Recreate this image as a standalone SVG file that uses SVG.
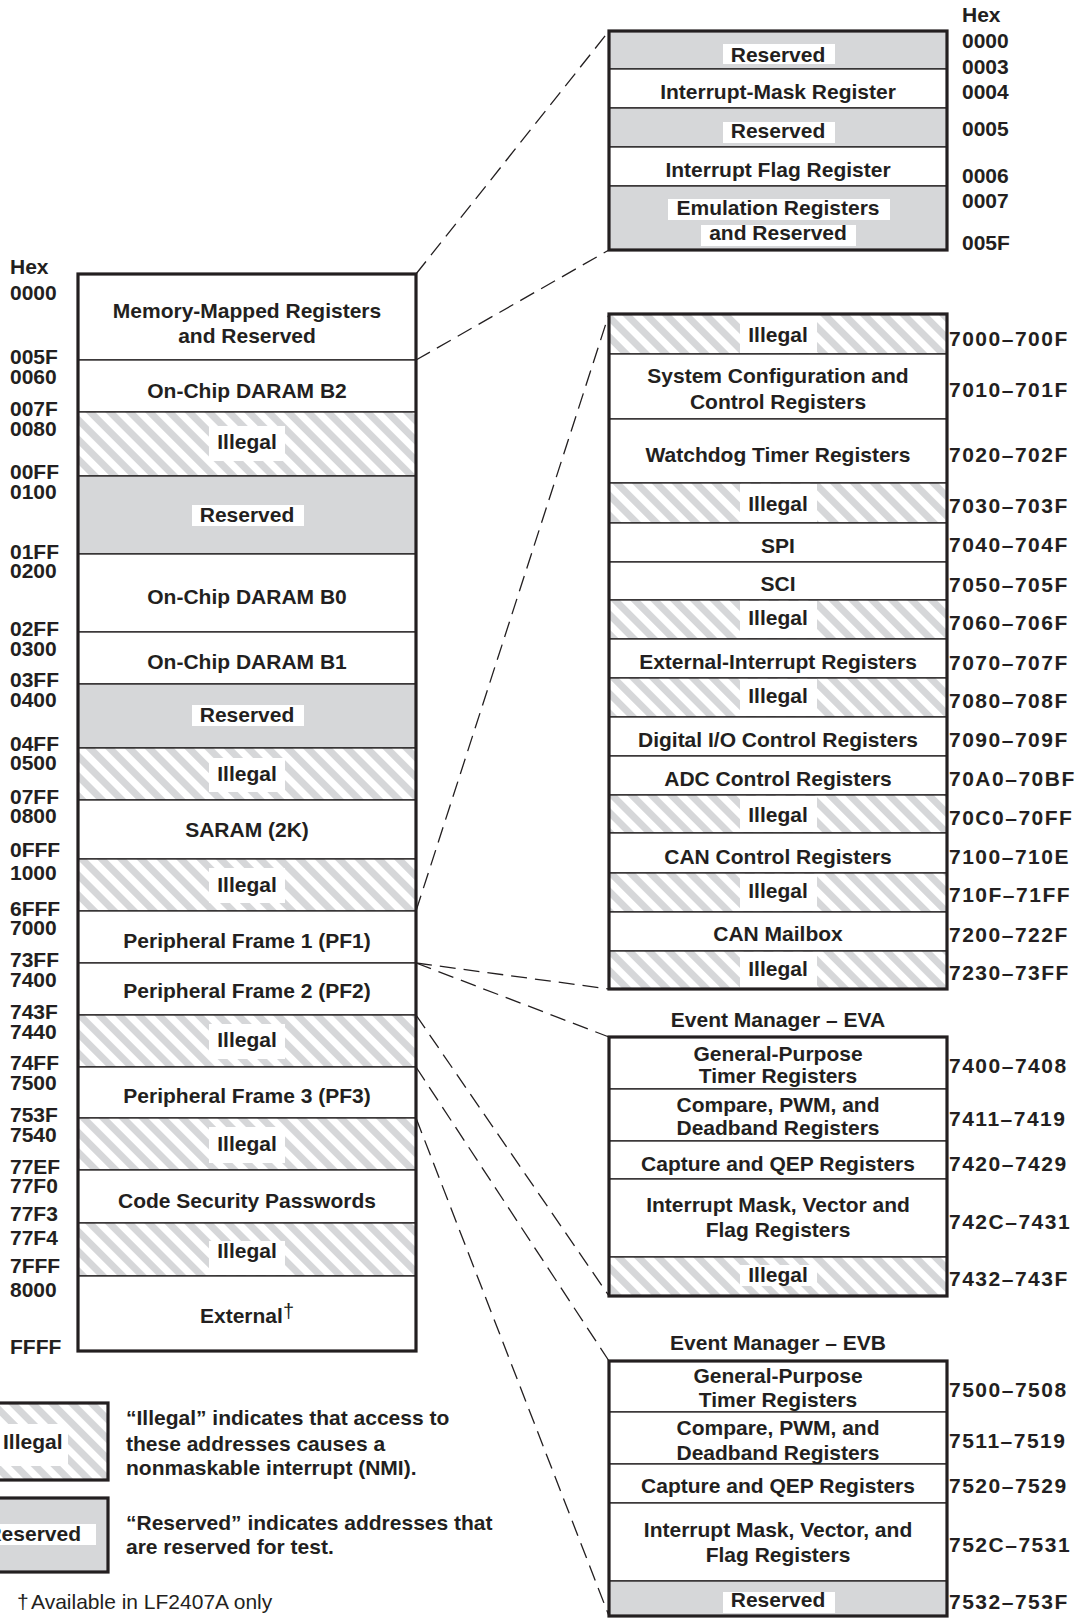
<svg xmlns="http://www.w3.org/2000/svg" width="1078" height="1618" viewBox="0 0 1078 1618">
  <style>
    .t { font-family: "Liberation Sans", Arial, Helvetica, sans-serif; font-weight: bold; font-size: 21px; fill: #231f20; }
    .c { text-anchor: middle; }
    .e { text-anchor: end; }
    .n { font-weight: normal; }
    .rng { letter-spacing: 1.5px; }
    .row { stroke: #231f20; stroke-width: 1.3; }
    .wht { fill: #ffffff; }
    .res { fill: #d6d7d9; }
    .ill { fill: url(#hatch); }
    .gap { fill: #ffffff; stroke: none; }
    .frame { fill: none; stroke: #231f20; stroke-width: 3.2; }
    .conn { fill: none; stroke: #231f20; stroke-width: 1.3; stroke-dasharray: 16 8; }
  </style>
  <defs>
    <!-- diagonal grey stripes used for illegal address ranges -->
    <pattern id="hatch" patternUnits="userSpaceOnUse" width="14" height="14" patternTransform="rotate(45)">
      <rect width="14" height="14" fill="#ffffff"/>
      <rect width="14" height="7" fill="#d6d7d9"/>
    </pattern>
  </defs>

  <rect width="1078" height="1618" fill="#ffffff"/>

  <!-- dashed zoom-in connectors -->
  <g id="connectors">
    <path class="conn" d="M416,274 L609,31"/>
    <path class="conn" d="M416,360 L609,250"/>
    <path class="conn" d="M416,911 L609,314"/>
    <path class="conn" d="M416,963 L609,989"/>
    <path class="conn" d="M416,963 L609,1037"/>
    <path class="conn" d="M416,1015 L609,1296"/>
    <path class="conn" d="M416,1067 L609,1361"/>
    <path class="conn" d="M416,1118 L609,1616"/>
  </g>

  <!-- ===== main data memory map ===== -->
  <g id="main-map">
    <g id="m-mmr"><rect class="row wht" x="78" y="274" width="338" height="86"/>
      <text class="t c" x="247" y="318">Memory-Mapped Registers</text>
      <text class="t c" x="247" y="343">and Reserved</text></g>
    <g id="m-b2"><rect class="row wht" x="78" y="360" width="338" height="52"/>
      <text class="t c" x="247" y="398">On-Chip DARAM B2</text></g>
    <g id="m-ill1"><rect class="row ill" x="78" y="412" width="338" height="64"/>
      <rect class="gap" x="209" y="426" width="76" height="35"/>
      <text class="t c" x="247" y="449">Illegal</text></g>
    <g id="m-res1"><rect class="row res" x="78" y="476" width="338" height="78"/>
      <rect class="gap" x="192" y="505" width="112" height="21"/>
      <text class="t c" x="247" y="522">Reserved</text></g>
    <g id="m-b0"><rect class="row wht" x="78" y="554" width="338" height="78"/>
      <text class="t c" x="247" y="604">On-Chip DARAM B0</text></g>
    <g id="m-b1"><rect class="row wht" x="78" y="632" width="338" height="52"/>
      <text class="t c" x="247" y="669">On-Chip DARAM B1</text></g>
    <g id="m-res2"><rect class="row res" x="78" y="684" width="338" height="64"/>
      <rect class="gap" x="192" y="705" width="112" height="21"/>
      <text class="t c" x="247" y="722">Reserved</text></g>
    <g id="m-ill2"><rect class="row ill" x="78" y="748" width="338" height="52"/>
      <rect class="gap" x="209" y="758" width="76" height="34"/>
      <text class="t c" x="247" y="781">Illegal</text></g>
    <g id="m-saram"><rect class="row wht" x="78" y="800" width="338" height="59"/>
      <text class="t c" x="247" y="837">SARAM (2K)</text></g>
    <g id="m-ill3"><rect class="row ill" x="78" y="859" width="338" height="52"/>
      <rect class="gap" x="209" y="868" width="76" height="35"/>
      <text class="t c" x="247" y="892">Illegal</text></g>
    <g id="m-pf1"><rect class="row wht" x="78" y="911" width="338" height="52"/>
      <text class="t c" x="247" y="948">Peripheral Frame 1 (PF1)</text></g>
    <g id="m-pf2"><rect class="row wht" x="78" y="963" width="338" height="52"/>
      <text class="t c" x="247" y="998">Peripheral Frame 2 (PF2)</text></g>
    <g id="m-ill4"><rect class="row ill" x="78" y="1015" width="338" height="52"/>
      <rect class="gap" x="209" y="1024" width="76" height="35"/>
      <text class="t c" x="247" y="1047">Illegal</text></g>
    <g id="m-pf3"><rect class="row wht" x="78" y="1067" width="338" height="51"/>
      <text class="t c" x="247" y="1103">Peripheral Frame 3 (PF3)</text></g>
    <g id="m-ill5"><rect class="row ill" x="78" y="1118" width="338" height="52"/>
      <rect class="gap" x="209" y="1127" width="76" height="36"/>
      <text class="t c" x="247" y="1151">Illegal</text></g>
    <g id="m-csp"><rect class="row wht" x="78" y="1170" width="338" height="53"/>
      <text class="t c" x="247" y="1208">Code Security Passwords</text></g>
    <g id="m-ill6"><rect class="row ill" x="78" y="1223" width="338" height="53"/>
      <rect class="gap" x="209" y="1241" width="76" height="34"/>
      <text class="t c" x="247" y="1258">Illegal</text></g>
    <g id="m-ext"><rect class="row wht" x="78" y="1276" width="338" height="75"/>
      <text class="t c" x="247" y="1323">External<tspan class="n" font-size="20" dy="-5">†</tspan></text></g>
    <rect class="frame" x="78" y="274" width="338" height="1077"/>
  </g>

  <!-- main map address column -->
  <g id="main-addresses" class="t">
    <text x="10" y="274">Hex</text>
    <text x="10" y="300">0000</text>
    <text x="10" y="364">005F</text>
    <text x="10" y="384">0060</text>
    <text x="10" y="416">007F</text>
    <text x="10" y="436">0080</text>
    <text x="10" y="479">00FF</text>
    <text x="10" y="499">0100</text>
    <text x="10" y="559">01FF</text>
    <text x="10" y="578">0200</text>
    <text x="10" y="636">02FF</text>
    <text x="10" y="656">0300</text>
    <text x="10" y="687">03FF</text>
    <text x="10" y="707">0400</text>
    <text x="10" y="751">04FF</text>
    <text x="10" y="770">0500</text>
    <text x="10" y="804">07FF</text>
    <text x="10" y="823">0800</text>
    <text x="10" y="857">0FFF</text>
    <text x="10" y="880">1000</text>
    <text x="10" y="916">6FFF</text>
    <text x="10" y="935">7000</text>
    <text x="10" y="967">73FF</text>
    <text x="10" y="987">7400</text>
    <text x="10" y="1019">743F</text>
    <text x="10" y="1039">7440</text>
    <text x="10" y="1070">74FF</text>
    <text x="10" y="1090">7500</text>
    <text x="10" y="1122">753F</text>
    <text x="10" y="1142">7540</text>
    <text x="10" y="1174">77EF</text>
    <text x="10" y="1193">77F0</text>
    <text x="10" y="1221">77F3</text>
    <text x="10" y="1245">77F4</text>
    <text x="10" y="1273">7FFF</text>
    <text x="10" y="1297">8000</text>
    <text x="10" y="1354">FFFF</text>
  </g>

  <!-- ===== memory-mapped registers detail ===== -->
  <g id="mmr-detail">
    <g id="r-res1"><rect class="row res" x="609" y="31" width="338" height="38"/>
      <rect class="gap" x="723" y="44" width="112" height="20"/>
      <text class="t c" x="778" y="62">Reserved</text></g>
    <g id="r-imr"><rect class="row wht" x="609" y="69" width="338" height="39"/>
      <text class="t c" x="778" y="99">Interrupt-Mask Register</text></g>
    <g id="r-res2"><rect class="row res" x="609" y="108" width="338" height="39"/>
      <rect class="gap" x="723" y="122" width="112" height="21"/>
      <text class="t c" x="778" y="138">Reserved</text></g>
    <g id="r-ifr"><rect class="row wht" x="609" y="147" width="338" height="39"/>
      <text class="t c" x="778" y="177">Interrupt Flag Register</text></g>
    <g id="r-emu"><rect class="row res" x="609" y="186" width="338" height="64"/>
      <rect class="gap" x="668" y="199" width="222" height="21"/>
      <rect class="gap" x="701" y="225" width="155" height="21"/>
      <text class="t c" x="778" y="215">Emulation Registers</text>
      <text class="t c" x="778" y="240">and Reserved</text></g>
    <rect class="frame" x="609" y="31" width="338" height="219"/>
  </g>
  <g id="mmr-addresses" class="t">
    <text x="962" y="22">Hex</text>
    <text x="962" y="48">0000</text>
    <text x="962" y="74">0003</text>
    <text x="962" y="99">0004</text>
    <text x="962" y="136">0005</text>
    <text x="962" y="183">0006</text>
    <text x="962" y="208">0007</text>
    <text x="962" y="250">005F</text>
  </g>

  <!-- ===== peripheral frame 1 detail ===== -->
  <g id="pf1-detail">
    <g id="p-ill1"><rect class="row ill" x="609" y="314" width="338" height="40"/>
      <rect class="gap" x="740" y="315" width="77" height="38"/>
      <text class="t c" x="778" y="342">Illegal</text></g>
    <g id="p-sys"><rect class="row wht" x="609" y="354" width="338" height="65"/>
      <text class="t c" x="778" y="383">System Configuration and</text>
      <text class="t c" x="778" y="409">Control Registers</text></g>
    <g id="p-wd"><rect class="row wht" x="609" y="419" width="338" height="64"/>
      <text class="t c" x="778" y="462">Watchdog Timer Registers</text></g>
    <g id="p-ill2"><rect class="row ill" x="609" y="483" width="338" height="40"/>
      <rect class="gap" x="740" y="484" width="77" height="38"/>
      <text class="t c" x="778" y="511">Illegal</text></g>
    <g id="p-spi"><rect class="row wht" x="609" y="523" width="338" height="39"/>
      <text class="t c" x="778" y="553">SPI</text></g>
    <g id="p-sci"><rect class="row wht" x="609" y="562" width="338" height="38"/>
      <text class="t c" x="778" y="591">SCI</text></g>
    <g id="p-ill3"><rect class="row ill" x="609" y="600" width="338" height="39"/>
      <rect class="gap" x="740" y="601" width="77" height="37"/>
      <text class="t c" x="778" y="625">Illegal</text></g>
    <g id="p-xint"><rect class="row wht" x="609" y="639" width="338" height="39"/>
      <text class="t c" x="778" y="669">External-Interrupt Registers</text></g>
    <g id="p-ill4"><rect class="row ill" x="609" y="678" width="338" height="39"/>
      <rect class="gap" x="740" y="679" width="77" height="37"/>
      <text class="t c" x="778" y="703">Illegal</text></g>
    <g id="p-dio"><rect class="row wht" x="609" y="717" width="338" height="39"/>
      <text class="t c" x="778" y="747">Digital I/O Control Registers</text></g>
    <g id="p-adc"><rect class="row wht" x="609" y="756" width="338" height="39"/>
      <text class="t c" x="778" y="786">ADC Control Registers</text></g>
    <g id="p-ill5"><rect class="row ill" x="609" y="795" width="338" height="38"/>
      <rect class="gap" x="740" y="796" width="77" height="36"/>
      <text class="t c" x="778" y="822">Illegal</text></g>
    <g id="p-can"><rect class="row wht" x="609" y="833" width="338" height="40"/>
      <text class="t c" x="778" y="864">CAN Control Registers</text></g>
    <g id="p-ill6"><rect class="row ill" x="609" y="873" width="338" height="39"/>
      <rect class="gap" x="740" y="874" width="77" height="37"/>
      <text class="t c" x="778" y="898">Illegal</text></g>
    <g id="p-mbx"><rect class="row wht" x="609" y="912" width="338" height="39"/>
      <text class="t c" x="778" y="941">CAN Mailbox</text></g>
    <g id="p-ill7"><rect class="row ill" x="609" y="951" width="338" height="38"/>
      <rect class="gap" x="740" y="952" width="77" height="36"/>
      <text class="t c" x="778" y="976">Illegal</text></g>
    <rect class="frame" x="609" y="314" width="338" height="675"/>
  </g>
  <g id="pf1-addresses" class="t rng">
    <text x="949" y="346">7000–700F</text>
    <text x="949" y="397">7010–701F</text>
    <text x="949" y="462">7020–702F</text>
    <text x="949" y="513">7030–703F</text>
    <text x="949" y="552">7040–704F</text>
    <text x="949" y="592">7050–705F</text>
    <text x="949" y="630">7060–706F</text>
    <text x="949" y="670">7070–707F</text>
    <text x="949" y="708">7080–708F</text>
    <text x="949" y="747">7090–709F</text>
    <text x="949" y="786">70A0–70BF</text>
    <text x="949" y="825">70C0–70FF</text>
    <text x="949" y="864">7100–710E</text>
    <text x="949" y="902">710F–71FF</text>
    <text x="949" y="942">7200–722F</text>
    <text x="949" y="980">7230–73FF</text>
  </g>

  <!-- ===== event manager A ===== -->
  <g id="eva-detail">
    <text class="t c" x="778" y="1027">Event Manager – EVA</text>
    <g id="a-gpt"><rect class="row wht" x="609" y="1037" width="338" height="52"/>
      <text class="t c" x="778" y="1061">General-Purpose</text>
      <text class="t c" x="778" y="1083">Timer Registers</text></g>
    <g id="a-cmp"><rect class="row wht" x="609" y="1089" width="338" height="52"/>
      <text class="t c" x="778" y="1112">Compare, PWM, and</text>
      <text class="t c" x="778" y="1135">Deadband Registers</text></g>
    <g id="a-cap"><rect class="row wht" x="609" y="1141" width="338" height="38"/>
      <text class="t c" x="778" y="1171">Capture and QEP Registers</text></g>
    <g id="a-int"><rect class="row wht" x="609" y="1179" width="338" height="78"/>
      <text class="t c" x="778" y="1212">Interrupt Mask, Vector and</text>
      <text class="t c" x="778" y="1237">Flag Registers</text></g>
    <g id="a-ill"><rect class="row ill" x="609" y="1257" width="338" height="39"/>
      <rect class="gap" x="740" y="1265" width="77" height="21"/>
      <text class="t c" x="778" y="1282">Illegal</text></g>
    <rect class="frame" x="609" y="1037" width="338" height="259"/>
  </g>
  <g id="eva-addresses" class="t rng">
    <text x="949" y="1073">7400–7408</text>
    <text x="949" y="1126">7411–7419</text>
    <text x="949" y="1171">7420–7429</text>
    <text x="949" y="1229">742C–7431</text>
    <text x="949" y="1286">7432–743F</text>
  </g>

  <!-- ===== event manager B ===== -->
  <g id="evb-detail">
    <text class="t c" x="778" y="1350">Event Manager – EVB</text>
    <g id="b-gpt"><rect class="row wht" x="609" y="1361" width="338" height="51"/>
      <text class="t c" x="778" y="1383">General-Purpose</text>
      <text class="t c" x="778" y="1407">Timer Registers</text></g>
    <g id="b-cmp"><rect class="row wht" x="609" y="1412" width="338" height="52"/>
      <text class="t c" x="778" y="1435">Compare, PWM, and</text>
      <text class="t c" x="778" y="1460">Deadband Registers</text></g>
    <g id="b-cap"><rect class="row wht" x="609" y="1464" width="338" height="39"/>
      <text class="t c" x="778" y="1493">Capture and QEP Registers</text></g>
    <g id="b-int"><rect class="row wht" x="609" y="1503" width="338" height="78"/>
      <text class="t c" x="778" y="1537">Interrupt Mask, Vector, and</text>
      <text class="t c" x="778" y="1562">Flag Registers</text></g>
    <g id="b-res"><rect class="row res" x="609" y="1581" width="338" height="35"/>
      <rect class="gap" x="723" y="1592" width="112" height="21"/>
      <text class="t c" x="778" y="1607">Reserved</text></g>
    <rect class="frame" x="609" y="1361" width="338" height="255"/>
  </g>
  <g id="evb-addresses" class="t rng">
    <text x="949" y="1397">7500–7508</text>
    <text x="949" y="1448">7511–7519</text>
    <text x="949" y="1493">7520–7529</text>
    <text x="949" y="1552">752C–7531</text>
    <text x="949" y="1609">7532–753F</text>
  </g>

  <!-- ===== legend ===== -->
  <g id="legend-illegal">
    <rect class="ill" x="-60" y="1403" width="168" height="77"/>
    <rect class="gap" x="-5" y="1424" width="73" height="42"/>
    <rect class="frame" x="-60" y="1403" width="168" height="77"/>
    <text class="t" x="3" y="1449">Illegal</text>
    <text class="t" x="126" y="1425">“Illegal” indicates that access to</text>
    <text class="t" x="126" y="1451">these addresses causes a</text>
    <text class="t" x="126" y="1475">nonmaskable interrupt (NMI).</text>
  </g>
  <g id="legend-reserved">
    <rect class="res" x="-60" y="1498" width="168" height="74"/>
    <rect class="gap" x="-5" y="1524" width="101" height="21"/>
    <rect class="frame" x="-60" y="1498" width="168" height="74"/>
    <text class="t e" x="81" y="1541">Reserved</text>
    <text class="t" x="126" y="1530">“Reserved” indicates addresses that</text>
    <text class="t" x="126" y="1554">are reserved for test.</text>
  </g>
  <g id="footnote">
    <text class="t n" x="17" y="1609" font-size="18">†</text>
    <text class="t n" x="31" y="1609" font-size="21.5">Available in LF2407A only</text>
  </g>
</svg>
